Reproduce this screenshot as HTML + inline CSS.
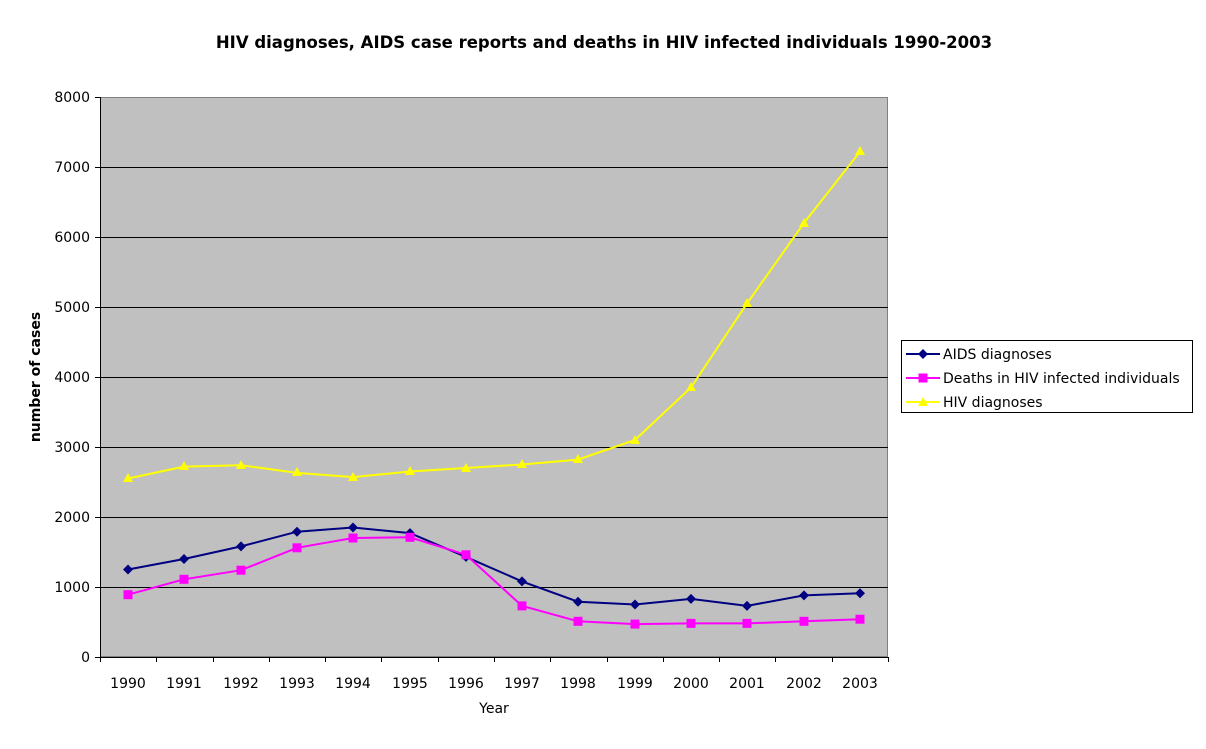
<!DOCTYPE html>
<html><head><meta charset="utf-8"><style>
body{margin:0;background:#fff;}
svg text{font-family:"DejaVu Sans","Liberation Sans",sans-serif;}
</style></head><body>
<svg width="1206" height="744" viewBox="0 0 1206 744" xmlns="http://www.w3.org/2000/svg">
<text x="604" y="48" text-anchor="middle" font-size="16.5" font-weight="bold">HIV diagnoses, AIDS case reports and deaths in HIV infected individuals 1990-2003</text>
<rect x="100.5" y="97.5" width="787" height="559" fill="#c0c0c0" stroke="#808080"/>
<g stroke="#000" stroke-width="1" shape-rendering="crispEdges">
<line x1="100" y1="167.5" x2="888" y2="167.5"/><line x1="100" y1="237.5" x2="888" y2="237.5"/>
<line x1="100" y1="307.5" x2="888" y2="307.5"/><line x1="100" y1="377.5" x2="888" y2="377.5"/>
<line x1="100" y1="447.5" x2="888" y2="447.5"/><line x1="100" y1="517.5" x2="888" y2="517.5"/>
<line x1="100" y1="587.5" x2="888" y2="587.5"/>
<line x1="100.5" y1="97" x2="100.5" y2="657"/><line x1="100" y1="657.5" x2="888" y2="657.5"/>
<line x1="95" y1="97.5" x2="100" y2="97.5"/><line x1="95" y1="167.5" x2="100" y2="167.5"/><line x1="95" y1="237.5" x2="100" y2="237.5"/><line x1="95" y1="307.5" x2="100" y2="307.5"/><line x1="95" y1="377.5" x2="100" y2="377.5"/><line x1="95" y1="447.5" x2="100" y2="447.5"/><line x1="95" y1="517.5" x2="100" y2="517.5"/><line x1="95" y1="587.5" x2="100" y2="587.5"/><line x1="95" y1="657.5" x2="100" y2="657.5"/>
<line x1="100.5" y1="657" x2="100.5" y2="662"/><line x1="156.5" y1="657" x2="156.5" y2="662"/><line x1="213.5" y1="657" x2="213.5" y2="662"/><line x1="269.5" y1="657" x2="269.5" y2="662"/><line x1="325.5" y1="657" x2="325.5" y2="662"/><line x1="381.5" y1="657" x2="381.5" y2="662"/><line x1="438.5" y1="657" x2="438.5" y2="662"/><line x1="494.5" y1="657" x2="494.5" y2="662"/><line x1="550.5" y1="657" x2="550.5" y2="662"/><line x1="607.5" y1="657" x2="607.5" y2="662"/><line x1="663.5" y1="657" x2="663.5" y2="662"/><line x1="719.5" y1="657" x2="719.5" y2="662"/><line x1="775.5" y1="657" x2="775.5" y2="662"/><line x1="832.5" y1="657" x2="832.5" y2="662"/><line x1="888.5" y1="657" x2="888.5" y2="662"/>
</g>
<g font-size="14" text-anchor="end">
<text x="90" y="102">8000</text><text x="90" y="172">7000</text><text x="90" y="242">6000</text><text x="90" y="312">5000</text><text x="90" y="382">4000</text><text x="90" y="452">3000</text><text x="90" y="522">2000</text><text x="90" y="592">1000</text><text x="90" y="662">0</text>
</g>
<g font-size="14" text-anchor="middle">
<text x="128" y="688">1990</text><text x="184" y="688">1991</text><text x="241" y="688">1992</text><text x="297" y="688">1993</text><text x="353" y="688">1994</text><text x="410" y="688">1995</text><text x="466" y="688">1996</text><text x="522" y="688">1997</text><text x="578" y="688">1998</text><text x="635" y="688">1999</text><text x="691" y="688">2000</text><text x="747" y="688">2001</text><text x="804" y="688">2002</text><text x="860" y="688">2003</text>
<text x="494" y="713">Year</text>
<text x="0" y="0" font-weight="bold" transform="translate(40,377) rotate(-90)">number of cases</text>
</g>
<polyline fill="none" stroke="#ffff00" stroke-width="2" points="128,478.5 184,466.6 241,465.2 297,472.9 353,477.1 410,471.5 466,468 522,464.5 578,459.6 635,440 691,387.5 747,303.5 804,223 860,151.6"/>
<g fill="#ffff00">
<polygon points="128,473 123,482 133,482"/><polygon points="184,461 179,470 189,470"/><polygon points="241,460 236,469 246,469"/><polygon points="297,467 292,476 302,476"/><polygon points="353,472 348,481 358,481"/><polygon points="410,466 405,475 415,475"/><polygon points="466,463 461,472 471,472"/><polygon points="522,459 517,468 527,468"/><polygon points="578,454 573,463 583,463"/><polygon points="635,435 630,444 640,444"/><polygon points="691,382 686,391 696,391"/><polygon points="747,298 742,307 752,307"/><polygon points="804,218 799,227 809,227"/><polygon points="860,146 855,155 865,155"/>
</g>
<polyline fill="none" stroke="#000080" stroke-width="2" points="128,569.5 184,559 241,546.4 297,531.7 353,527.5 410,533.1 466,556.9 522,581.4 578,601.7 635,604.5 691,598.9 747,605.9 804,595.4 860,593.3"/>
<g fill="#000080">
<polygon points="128,564.5 133,569.5 128,574.5 123,569.5"/><polygon points="184,554 189,559 184,564 179,559"/><polygon points="241,541.4 246,546.4 241,551.4 236,546.4"/><polygon points="297,526.7 302,531.7 297,536.7 292,531.7"/><polygon points="353,522.5 358,527.5 353,532.5 348,527.5"/><polygon points="410,528.1 415,533.1 410,538.1 405,533.1"/><polygon points="466,551.9 471,556.9 466,561.9 461,556.9"/><polygon points="522,576.4 527,581.4 522,586.4 517,581.4"/><polygon points="578,596.7 583,601.7 578,606.7 573,601.7"/><polygon points="635,599.5 640,604.5 635,609.5 630,604.5"/><polygon points="691,593.9 696,598.9 691,603.9 686,598.9"/><polygon points="747,600.9 752,605.9 747,610.9 742,605.9"/><polygon points="804,590.4 809,595.4 804,600.4 799,595.4"/><polygon points="860,588.3 865,593.3 860,598.3 855,593.3"/>
</g>
<polyline fill="none" stroke="#ff00ff" stroke-width="2" points="128,594.7 184,579.3 241,570.2 297,547.8 353,538 410,537.3 466,554.8 522,605.9 578,621.3 635,624.1 691,623.4 747,623.4 804,621.3 860,619.2"/>
<g fill="#ff00ff">
<rect x="123.5" y="590.2" width="9" height="9"/><rect x="179.5" y="574.8" width="9" height="9"/><rect x="236.5" y="565.7" width="9" height="9"/><rect x="292.5" y="543.3" width="9" height="9"/><rect x="348.5" y="533.5" width="9" height="9"/><rect x="405.5" y="532.8" width="9" height="9"/><rect x="461.5" y="550.3" width="9" height="9"/><rect x="517.5" y="601.4" width="9" height="9"/><rect x="573.5" y="616.8" width="9" height="9"/><rect x="630.5" y="619.6" width="9" height="9"/><rect x="686.5" y="618.9" width="9" height="9"/><rect x="742.5" y="618.9" width="9" height="9"/><rect x="799.5" y="616.8" width="9" height="9"/><rect x="855.5" y="614.7" width="9" height="9"/>
</g>
<rect x="901.5" y="340.5" width="291" height="72" fill="#fff" stroke="#000"/>
<line x1="906" y1="354" x2="940" y2="354" stroke="#000080" stroke-width="2"/><polygon points="923,349 928,354 923,359 918,354" fill="#000080"/>
<line x1="906" y1="378" x2="940" y2="378" stroke="#ff00ff" stroke-width="2"/><rect x="918.5" y="373.5" width="9" height="9" fill="#ff00ff"/>
<line x1="906" y1="402" x2="940" y2="402" stroke="#ffff00" stroke-width="2"/><polygon points="923,397 918,406 928,406" fill="#ffff00"/>
<g font-size="14"><text x="943" y="359">AIDS diagnoses</text><text x="943" y="383">Deaths in HIV infected individuals</text><text x="943" y="407">HIV diagnoses</text></g>
</svg>
</body></html>
